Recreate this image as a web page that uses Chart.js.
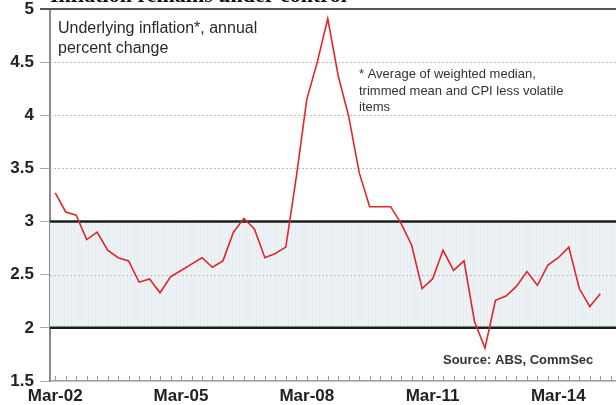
<!DOCTYPE html>
<html lang="en">
<head>
  <meta charset="UTF-8">
  <title>Inflation remains under control</title>
  <script src="https://cdn.jsdelivr.net/npm/chart.js"></script>
  <style>
    html, body { margin: 0; padding: 0; background: #fff; }
    #wrap { width: 616px; height: 405px; }
  </style>
</head>
<body>
  <div id="wrap">
    <canvas id="inflChart" width="616" height="405"></canvas>
  </div>

  <script>
    // quarterly underlying inflation, Mar-02 .. Mar-15
    const values = [
      3.27, 3.09, 3.06, 2.83, 2.90, 2.73, 2.66, 2.63, 2.43, 2.46,
      2.33, 2.48, 2.54, 2.60, 2.66, 2.57, 2.63, 2.90, 3.03, 2.93,
      2.66, 2.70, 2.76, 3.42, 4.15, 4.50, 4.91, 4.37, 3.99, 3.46,
      3.14, 3.14, 3.14, 2.98, 2.78, 2.37, 2.46, 2.73, 2.54, 2.63,
      2.06, 1.81, 2.26, 2.30, 2.39, 2.53, 2.40, 2.59, 2.66, 2.76,
      2.37, 2.20, 2.32
    ];
    const tickLabels = ['Mar-02', 'Mar-05', 'Mar-08', 'Mar-11', 'Mar-14'];
    const tickIndex = [0, 12, 24, 36, 48];
    const targetBand = [2, 3];          // RBA target band
    const dottedLevels = [2.5, 3.5, 4, 4.5];

    // background band, reference lines and quarter ticks
    const bandPlugin = {
      id: 'band',
      beforeDatasetsDraw(chart) {
        const { ctx, chartArea: a, scales: { x, y } } = chart;
        ctx.save();
        const yTop = y.getPixelForValue(targetBand[1]);
        const yBot = y.getPixelForValue(targetBand[0]);
        ctx.fillStyle = '#edf2f4';
        ctx.fillRect(a.left, yTop, a.right - a.left, yBot - yTop);
        ctx.strokeStyle = 'rgba(215,224,228,0.35)';
        ctx.lineWidth = 1;
        for (let px = a.left + 3; px < a.right; px += 3.5) {
          ctx.beginPath();
          ctx.moveTo(Math.round(px) + 0.5, yTop);
          ctx.lineTo(Math.round(px) + 0.5, yBot);
          ctx.stroke();
        }
        // dotted grid
        ctx.strokeStyle = '#bdbdbd';
        ctx.setLineDash([2, 2]);
        dottedLevels.forEach(v => {
          const py = Math.round(y.getPixelForValue(v)) + 0.5;
          ctx.beginPath();
          ctx.moveTo(a.left, py);
          ctx.lineTo(a.right, py);
          ctx.stroke();
        });
        ctx.setLineDash([]);
        // band edges
        ctx.strokeStyle = '#1e1e1e';
        ctx.lineWidth = 2.5;
        targetBand.forEach(v => {
          const py = y.getPixelForValue(v);
          ctx.beginPath();
          ctx.moveTo(a.left, py);
          ctx.lineTo(a.right, py);
          ctx.stroke();
        });
        // top frame
        ctx.strokeStyle = '#555';
        ctx.lineWidth = 2;
        ctx.beginPath();
        ctx.moveTo(a.left - 10, a.top);
        ctx.lineTo(a.right, a.top);
        ctx.stroke();
        // quarter ticks on x axis
        ctx.strokeStyle = '#999';
        ctx.lineWidth = 1;
        for (let i = 0; i <= 53; i++) {
          const px = Math.round(x.getPixelForValue(i)) + 0.5;
          ctx.beginPath();
          ctx.moveTo(px, a.bottom);
          ctx.lineTo(px, a.bottom - 5);
          ctx.stroke();
        }
        ctx.restore();
      },
      afterDraw(chart) {
        const { ctx } = chart;
        ctx.save();
        ctx.fillStyle = '#111';
        ctx.font = 'bold 22px "Liberation Serif"';
        ctx.fillText('Inflation remains under control', 50, 2);
        ctx.fillStyle = '#2a2a2a';
        ctx.font = '16px "Liberation Sans"';
        ctx.fillText('Underlying inflation*, annual', 58, 33);
        ctx.fillText('percent change', 58, 53);
        ctx.fillStyle = '#333';
        ctx.font = '13px "Liberation Sans"';
        ctx.fillText('* Average of weighted median,', 359, 78);
        ctx.fillText('trimmed mean and CPI less volatile', 359, 95);
        ctx.fillText('items', 359, 111);
        ctx.font = 'bold 13px "Liberation Sans"';
        ctx.fillText('Source: ABS, CommSec', 443, 364);
        ctx.restore();
      }
    };

    const ctx = document.getElementById('inflChart').getContext('2d');
    new Chart(ctx, {
      type: 'line',
      data: {
        datasets: [{
          data: values.map((v, i) => ({ x: i, y: v })),
          borderColor: '#e0262b',
          borderWidth: 1.6,
          pointRadius: 0,
          tension: 0
        }]
      },
      options: {
        responsive: false,
        animation: false,
        layout: { padding: { top: 9, right: 0, left: 0, bottom: 0 } },
        plugins: { legend: { display: false }, tooltip: { enabled: false } },
        scales: {
          x: {
            type: 'linear',
            min: -0.5,
            max: 53.5,
            afterBuildTicks: s => { s.ticks = tickIndex.map(v => ({ value: v })); },
            afterFit: s => { s.height = 24; s.paddingLeft = 0; s.paddingRight = 0; },
            ticks: {
              callback: v => tickLabels[tickIndex.indexOf(v)],
              font: { family: 'Liberation Sans', size: 17, weight: 'bold' },
              color: '#222',
              padding: 5,
              maxRotation: 0,
              autoSkip: false
            },
            grid: { display: false, drawTicks: false },
            border: { color: '#999', width: 1.5 }
          },
          y: {
            min: 1.5,
            max: 5,
            afterFit: s => { s.width = 50; s.paddingTop = 0; s.paddingBottom = 0; },
            ticks: {
              stepSize: 0.5,
              callback: v => String(v),
              font: { family: 'Liberation Sans', size: 17, weight: 'bold' },
              color: '#222',
              padding: 6
            },
            grid: { drawOnChartArea: false, tickLength: 10, tickColor: '#aaa' },
            border: { color: '#8a8a8a', width: 2 }
          }
        }
      },
      plugins: [bandPlugin]
    });
  </script>
</body>
</html>
